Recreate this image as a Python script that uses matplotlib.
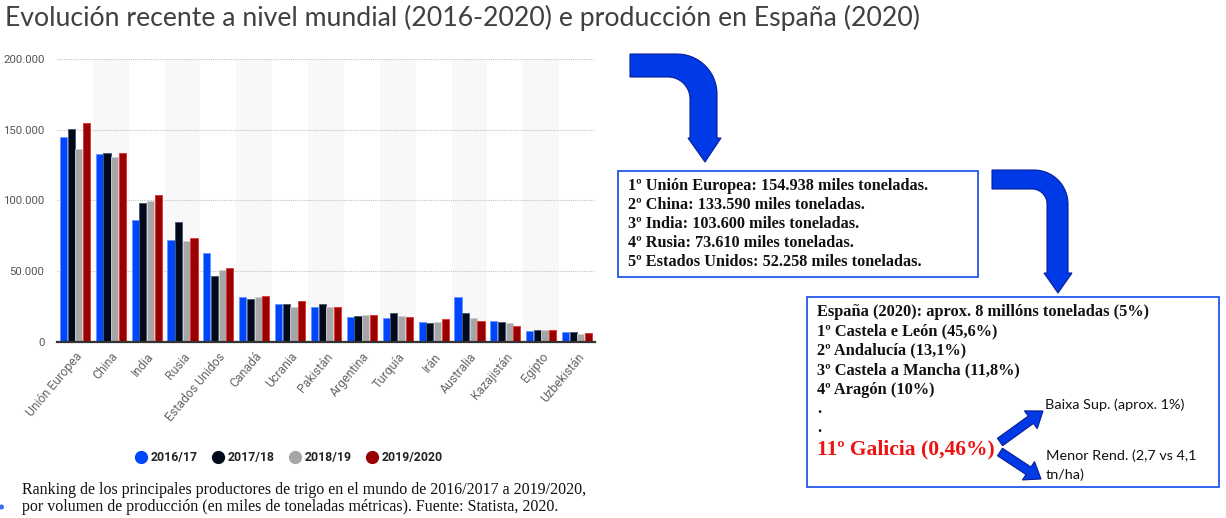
import numpy as np
import matplotlib
matplotlib.use('Agg')
import matplotlib.pyplot as plt
from matplotlib.patches import Polygon, Rectangle, FancyArrow, Circle
from matplotlib.lines import Line2D
from matplotlib.ticker import FuncFormatter

# wheat production, thousand metric tons
countries = ['Unión Europea', 'China', 'India', 'Rusia', 'Estados Unidos', 'Canadá',
             'Ucrania', 'Pakistán', 'Argentina', 'Turquía', 'Irán', 'Australia',
             'Kazajistán', 'Egipto', 'Uzbekistán']
seasons = ['2016/17', '2017/18', '2018/19', '2019/2020']
prod_2016 = [145000, 132700, 86500, 72000, 62700, 31400, 26400, 24800, 17700, 17000, 13900, 31400, 14600, 7500, 6800]
prod_2017 = [150700, 133400, 98000, 84800, 46500, 30000, 26400, 26400, 18200, 20500, 13200, 20500, 13900, 8300, 6800]
prod_2018 = [136300, 130600, 99400, 71300, 50800, 31400, 24800, 24800, 18900, 18200, 13900, 17000, 13200, 8300, 5400]
prod_2019 = [154938, 133590, 103600, 73610, 52258, 32300, 28600, 24300, 19100, 17200, 16300, 14600, 11100, 8300, 6100]

title = 'Evolución recente a nivel mundial (2016-2020) e producción en España (2020)'
caption = ['Ranking de los principales productores de trigo en el mundo de 2016/2017 a 2019/2020,',
           'por volumen de producción (en miles de toneladas métricas). Fuente: Statista, 2020.']
top5 = ['1º Unión Europea: 154.938 miles toneladas.',
        '2º China: 133.590 miles toneladas.',
        '3º India: 103.600 miles toneladas.',
        '4º Rusia: 73.610 miles toneladas.',
        '5º Estados Unidos: 52.258 miles toneladas.']
spain = ['España (2020): aprox. 8 millóns toneladas (5%)',
         '1º Castela e León (45,6%)',
         '2º Andalucía (13,1%)',
         '3º Castela a Mancha (11,8%)',
         '4º Aragón (10%)',
         '.',
         '.']
galicia = '11º Galicia (0,46%)'
note_up = 'Baixa Sup. (aprox. 1%)'
note_down = ['Menor Rend. (2,7 vs 4,1', 'tn/ha)']

colors = ['#0046ff', '#000a1a', '#a6a6a6', '#990000']
edges = ['#6a95ff', '#46546e', '#cfcfcf', '#e83030']
arrow_blue = '#0039e6'
arrow_edge = '#0a1f99'
box_blue = '#2456e8'

W, H = 1226, 518
fig = plt.figure(figsize=(W / 100, H / 100), dpi=100)

# overlay in pixel coordinates (y down) for the decorations
ov = fig.add_axes([0, 0, 1, 1])
ov.set_xlim(0, W)
ov.set_ylim(H, 0)
ov.axis('off')

# ---- bar chart ----
ax = fig.add_axes([57 / W, (H - 341.7) / H, (595 - 57) / W, (341.7 - 59.3) / H])
x = np.arange(len(countries))
series = [prod_2016, prod_2017, prod_2018, prod_2019]
bw, step = 0.2, 0.214
for i, vals in enumerate(series):
    ax.bar(x + (i - 1.5) * step, vals, bw, color=colors[i], edgecolor=edges[i],
           linewidth=0.6, zorder=3)
for i in range(1, len(countries), 2):
    ax.axvspan(i - 0.5, i + 0.5, color='#f8f8f8', zorder=0, lw=0)

ax.set_xlim(-0.5, len(countries) - 0.5)
ax.set_ylim(0, 200000)
ax.set_yticks([0, 50000, 100000, 150000, 200000])
ax.yaxis.set_major_formatter(FuncFormatter(lambda v, p: f'{int(v):,}'.replace(',', '.')))
ax.grid(axis='y', linestyle=(0, (1, 1)), color='#c4c4c4', linewidth=0.8, zorder=1)
for s in ['top', 'right', 'left']:
    ax.spines[s].set_visible(False)
ax.spines['bottom'].set_color('#333333')
ax.spines['bottom'].set_linewidth(1.6)
ax.spines['bottom'].set_zorder(4)
ax.tick_params(axis='y', length=0, pad=9, labelsize=8.2, labelcolor='#555555')
ax.tick_params(axis='x', length=0, pad=6)
for t in ax.get_yticklabels():
    t.set_family('Roboto')
ax.set_xticks(x)
ax.set_xticklabels(countries, rotation=50, ha='right', rotation_mode='anchor',
                   fontsize=8.8, color='#666666', family='Roboto')

handles = [Line2D([], [], marker='o', linestyle='none', markersize=8.5,
                  markerfacecolor=c, markeredgecolor=c) for c in colors]
leg = fig.legend(handles, seasons, loc='center', bbox_to_anchor=(289 / W, 1 - 458 / H),
                 ncol=4, frameon=False, handletextpad=0.25, columnspacing=1.2,
                 handlelength=1.0, prop={'family': 'Roboto', 'weight': 'bold', 'size': 8.8})
for t in leg.get_texts():
    t.set_color('#222222')

# ---- title and caption ----
ov.text(5, 18, title, fontsize=19.2, family='Lato', color='#404040', va='center', ha='left')
ov.text(22, 490, caption[0], fontsize=11.5, family='Liberation Serif', color='#111111', va='center')
ov.text(22, 507, caption[1], fontsize=11.5, family='Liberation Serif', color='#111111', va='center')
ov.add_patch(Circle((1.5, 507), 2.5, color='#3a6cf0', lw=0))


def bent_arrow(x0, y_top, y_bot, x_in, x_out, r_out, r_in, head_top, head_l, head_r, tip):
    pts = [(x0, y_top), (x_out - r_out, y_top)]
    a = np.linspace(-np.pi / 2, 0, 20)
    pts += list(zip(x_out - r_out + r_out * np.cos(a), y_top + r_out + r_out * np.sin(a)))
    pts += [(x_out, head_top), (head_r, head_top), tip, (head_l, head_top), (x_in, head_top)]
    a = np.linspace(0, -np.pi / 2, 20)
    pts += list(zip(x_in - r_in + r_in * np.cos(a), y_bot + r_in + r_in * np.sin(a)))
    pts += [(x0, y_bot)]
    ov.add_patch(Polygon(pts, closed=True, facecolor=arrow_blue, edgecolor=arrow_edge, lw=0.8))


bent_arrow(630, 54, 77, 690, 717, 40, 22, 138, 688, 721, (705, 162))
bent_arrow(992, 170, 189, 1047, 1068, 34, 15, 273, 1044, 1072, (1058, 293))

# ---- box 1: top five ----
ov.add_patch(Rectangle((618, 171), 360, 106, fill=False, edgecolor=box_blue, lw=1.3))
for i, line in enumerate(top5):
    ov.text(628, 186 + i * 19, line, fontsize=11.7, family='Liberation Serif',
            weight='bold', color='#111111', va='center')

# ---- box 2: Spain ----
ov.add_patch(Rectangle((807, 297), 412, 190, fill=False, edgecolor=box_blue, lw=1.3))
for i, line in enumerate(spain):
    ov.text(817, 312 + i * 19.4, line, fontsize=11.8, family='Liberation Serif',
            weight='bold', color='#111111', va='center')
ov.text(817, 449, galicia, fontsize=15.5, family='Liberation Serif', weight='bold',
        color='#ee1111', va='center')

ov.add_patch(FancyArrow(1000, 442, 43, -31, width=9, head_width=22, head_length=15,
                        length_includes_head=True, facecolor=arrow_blue, edgecolor=arrow_edge, lw=0.8))
ov.add_patch(FancyArrow(1000, 452, 41, 27, width=9, head_width=22, head_length=15,
                        length_includes_head=True, facecolor=arrow_blue, edgecolor=arrow_edge, lw=0.8))
ov.text(1045, 405, note_up, fontsize=10.4, family='Lato', color='#111111', va='center')
ov.text(1046, 456, note_down[0], fontsize=10.4, family='Lato', color='#111111', va='center')
ov.text(1046, 475, note_down[1], fontsize=10.4, family='Lato', color='#111111', va='center')

fig.savefig('out.png', dpi=100)
